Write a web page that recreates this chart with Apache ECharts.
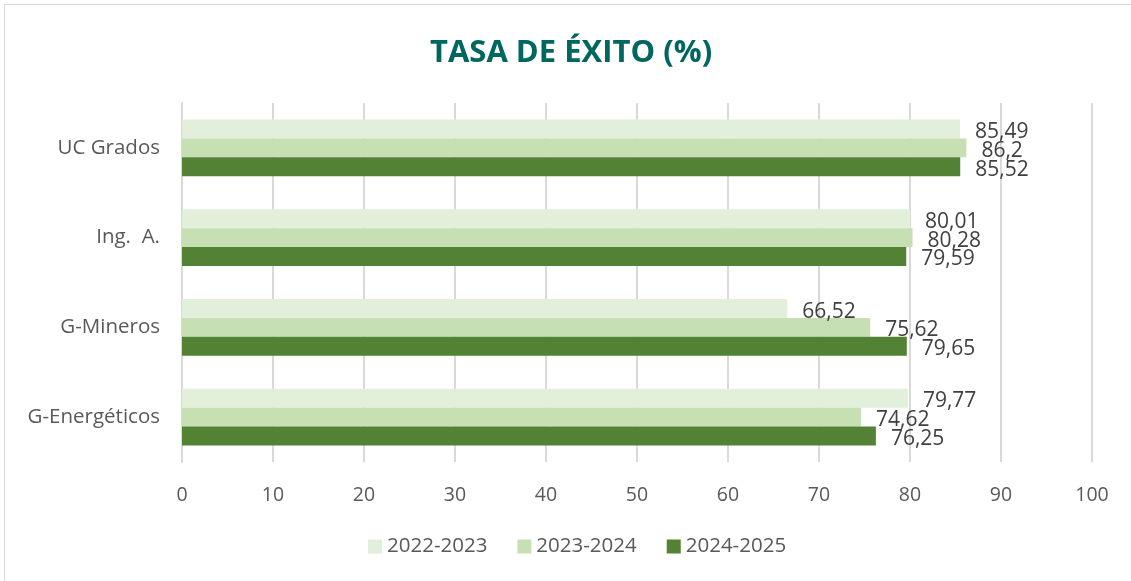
<!DOCTYPE html>
<html><head><meta charset="utf-8">
<script src="https://cdn.jsdelivr.net/npm/echarts@6/dist/echarts.min.js"></script>
<style>
html,body{margin:0;padding:0;background:#fff;}
#frame{position:absolute;left:4px;top:4px;width:1140px;height:590px;border:1px solid #D9D9D9;box-sizing:border-box;}
#c{position:absolute;left:0;top:0;width:1131px;height:581px;}
</style></head>
<body><div id="frame"></div><div id="c"></div>
<script>
const categories = ['UC Grados', 'Ing.  A.', 'G-Mineros', 'G-Energéticos'];
const seriesNames = ['2022-2023', '2023-2024', '2024-2025'];
const s2022 = [85.49, 80.01, 66.52, 79.77];
const s2023 = [86.2, 80.28, 75.62, 74.62];
const s2024 = [85.52, 79.59, 79.65, 76.25];
const colors = ['#E2EFDA', '#C6E0B4', '#548235'];
const ticks = [0, 10, 20, 30, 40, 50, 60, 70, 80, 90, 100];

const chart = echarts.init(document.getElementById('c'));
const fmt = p => String(p.value).replace('.', ',');
const mk = (name, data, color) => ({
  name, type: 'bar', data, barGap: '0%', barCategoryGap: '37%',
  itemStyle: { color },
  label: { show: true, position: 'right', distance: 15, offset: [0, 3], formatter: fmt,
           color: '#404040', fontSize: 21, fontFamily: 'Open Sans' }
});
chart.setOption({
  animation: false,
  title: { text: 'TASA DE ÉXITO (%)', left: 425, top: 33,
    textStyle: { color: '#006660', fontSize: 31, fontWeight: 'bold', fontFamily: 'Open Sans' } },
  legend: { bottom: 19, left: 363, itemWidth: 14, itemHeight: 14, itemGap: 30, icon: 'rect',
    textStyle: { color: '#595959', fontSize: 20.5, fontFamily: 'Open Sans' } },
  grid: { left: 182, right: 39, top: 103, bottom: 119 },
  xAxis: { type: 'value', min: ticks[0], max: ticks[ticks.length - 1], interval: 10,
    axisLine: { show: false }, axisTick: { show: false },
    splitLine: { lineStyle: { color: '#D9D9D9', width: 2 } },
    axisLabel: { color: '#595959', fontSize: 19.5, fontFamily: 'Open Sans', margin: 23 } },
  yAxis: { type: 'category', data: categories, inverse: true,
    axisLine: { show: true, lineStyle: { color: '#D9D9D9', width: 2 } }, axisTick: { show: false },
    axisLabel: { color: '#595959', fontSize: 20.5, fontFamily: 'Open Sans', margin: 22 } },
  series: [mk(seriesNames[0], s2022, colors[0]), mk(seriesNames[1], s2023, colors[1]), mk(seriesNames[2], s2024, colors[2])]
});
</script></body></html>
